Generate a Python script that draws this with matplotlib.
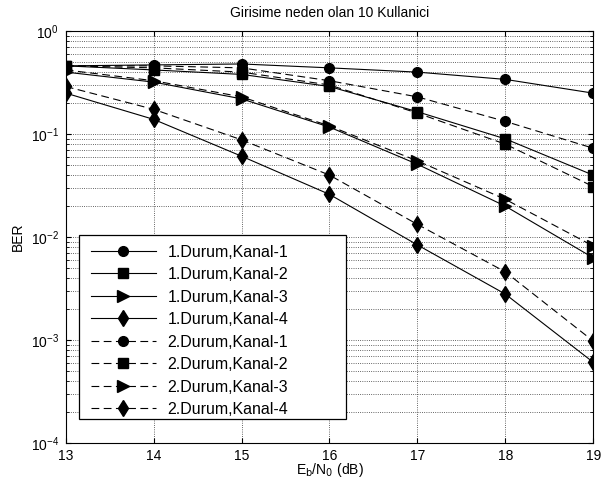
import matplotlib
matplotlib.use("Agg")
import matplotlib.pyplot as plt
from matplotlib.patches import Rectangle
import numpy as np

plt.rcParams['font.family'] = ['Liberation Sans', 'DejaVu Sans']

snr = [13, 14, 15, 16, 17, 18, 19]
d1_k1 = [0.46, 0.47, 0.48, 0.44, 0.40, 0.34, 0.25]
d1_k2 = [0.46, 0.42, 0.38, 0.29, 0.165, 0.09, 0.040]
d1_k3 = [0.40, 0.32, 0.22, 0.117, 0.051, 0.020, 0.0063]
d1_k4 = [0.25, 0.139, 0.061, 0.026, 0.0084, 0.0028, 0.00061]
d2_k1 = [0.46, 0.46, 0.44, 0.33, 0.23, 0.133, 0.073]
d2_k2 = [0.46, 0.44, 0.40, 0.30, 0.16, 0.080, 0.031]
d2_k3 = [0.42, 0.33, 0.23, 0.12, 0.055, 0.0233, 0.0082]
d2_k4 = [0.29, 0.174, 0.088, 0.040, 0.0133, 0.0046, 0.00098]

labels = ['1.Durum,Kanal-1', '1.Durum,Kanal-2', '1.Durum,Kanal-3', '1.Durum,Kanal-4',
          '2.Durum,Kanal-1', '2.Durum,Kanal-2', '2.Durum,Kanal-3', '2.Durum,Kanal-4']
series = [d1_k1, d1_k2, d1_k3, d1_k4, d2_k1, d2_k2, d2_k3, d2_k4]
markers = ['o', 's', '>', 'd', 'o', 's', '>', 'd']
styles = ['-'] * 4 + ['--'] * 4
msizes = [7, 7, 8, 8, 7, 7, 8, 8]

fig = plt.figure(figsize=(6.04, 4.79), dpi=100)
ax = fig.add_axes([0.109, 0.075, 0.873, 0.860])

for y, lab, m, ls, ms in zip(series, labels, markers, styles, msizes):
    ax.semilogy(snr, y, color='black', linestyle=ls, marker=m, markersize=ms,
                linewidth=0.8, label=lab, dashes=(7, 4) if ls == '--' else (None, None))

ax.set_xlim(13, 19)
ax.set_ylim(1e-4, 1)
ax.set_xticks(snr)
ax.grid(True, which='major', linestyle=':', color='#333333', linewidth=0.6)
ax.grid(True, which='minor', axis='y', linestyle=':', color='#333333', linewidth=0.6)
ax.tick_params(which='both', direction='in', top=True, right=True, labelsize=10)
ax.tick_params(axis='x', pad=4)
ax.tick_params(axis='y', pad=5)
ax.set_xlabel(r'E$_\mathrm{b}$/N$_\mathrm{0}$ (dB)', fontsize=10, labelpad=-1)
ax.set_ylabel('BER', fontsize=10)
ax.set_title('Girisime neden olan 10 Kullanici', fontsize=10, pad=10)

# legend frame (MATLAB-style wide box)
box = Rectangle((0.025, 0.058), 0.507, 0.446, transform=ax.transAxes,
                facecolor='white', edgecolor='black', linewidth=0.9, zorder=5)
ax.add_patch(box)

leg = ax.legend(loc='upper left', bbox_to_anchor=(0.047, 0.482), fontsize=11.5,
                frameon=False, handlelength=4.1, handletextpad=0.7,
                borderaxespad=0, borderpad=0, labelspacing=0.47)
leg.set_zorder(6)

fig.savefig('out.png', dpi=100)
